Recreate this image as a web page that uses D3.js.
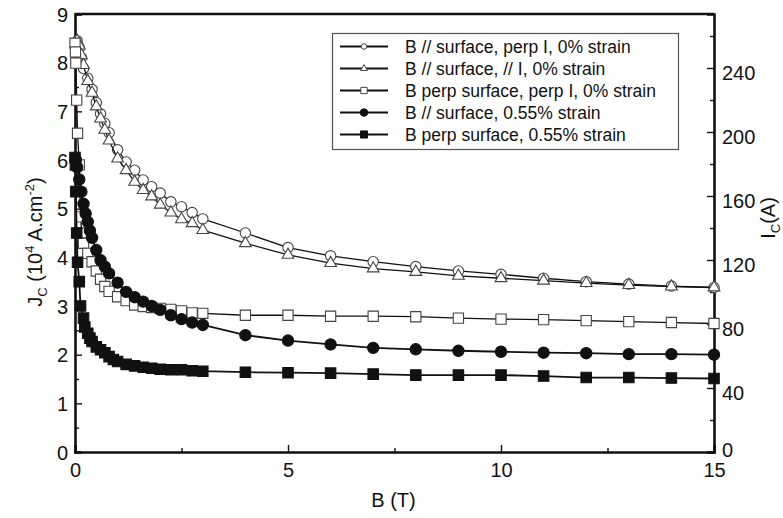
<!DOCTYPE html>
<html>
<head>
<meta charset="utf-8">
<script src="https://cdn.jsdelivr.net/npm/d3@7"></script>
<style>
  body { margin: 0; background: #fff; }
  svg { display: block; font-family: "Liberation Sans", Arial, sans-serif; }
  .axis path, .axis line { stroke: #111; }
  .axis text { fill: #111; font-size: 20px; }
</style>
</head>
<body>
<svg id="chart" width="783" height="518"></svg>
<script>
// field values (T) and Jc values (10^4 A/cm2)
const bCircle = [0.05, 0.1, 0.15, 0.2, 0.3, 0.4, 0.5, 0.6, 0.7, 0.8, 1.0, 1.2, 1.4, 1.6, 1.8, 2.0, 2.25, 2.5, 2.75, 3, 4, 5, 6, 7, 8, 9, 10, 11, 12, 13, 14, 15];
const jCircle = [8.45, 8.3, 8.1, 7.88, 7.68, 7.45, 7.18, 6.95, 6.75, 6.56, 6.21, 5.96, 5.79, 5.59, 5.45, 5.32, 5.14, 5.04, 4.92, 4.79, 4.50, 4.20, 4.03, 3.91, 3.81, 3.72, 3.65, 3.57, 3.50, 3.45, 3.41, 3.38];

const bTriangle = [0.05, 0.1, 0.15, 0.2, 0.3, 0.4, 0.5, 0.6, 0.7, 0.8, 1.0, 1.2, 1.4, 1.6, 1.8, 2.0, 2.25, 2.5, 2.75, 3, 4, 5, 6, 7, 8, 9, 10, 11, 12, 13, 14, 15];
const jTriangle = [8.45, 8.35, 8.15, 7.95, 7.62, 7.38, 7.10, 6.85, 6.62, 6.40, 6.03, 5.79, 5.55, 5.38, 5.25, 5.08, 4.92, 4.78, 4.70, 4.56, 4.29, 4.05, 3.88, 3.77, 3.70, 3.62, 3.57, 3.52, 3.47, 3.43, 3.40, 3.38];

const bOpenSq = [0, 0.01, 0.02, 0.04, 0.06, 0.1, 0.13, 0.16, 0.2, 0.3, 0.4, 0.5, 0.6, 0.7, 0.8, 1.0, 1.2, 1.4, 1.6, 1.8, 2.0, 2.25, 2.5, 2.75, 3, 4, 5, 6, 7, 8, 9, 10, 11, 12, 13, 14, 15];
const jOpenSq = [8.40, 8.22, 7.99, 7.23, 6.55, 5.90, 4.83, 4.50, 4.29, 4.08, 3.91, 3.72, 3.55, 3.40, 3.30, 3.19, 3.11, 3.02, 2.99, 2.97, 2.95, 2.93, 2.90, 2.86, 2.85, 2.81, 2.81, 2.79, 2.79, 2.78, 2.75, 2.73, 2.72, 2.70, 2.68, 2.66, 2.64];

const bDot = [0.02, 0.05, 0.1, 0.15, 0.2, 0.25, 0.3, 0.35, 0.4, 0.5, 0.6, 0.7, 0.8, 1.0, 1.2, 1.4, 1.6, 1.8, 2.0, 2.25, 2.5, 2.75, 3, 4, 5, 6, 7, 8, 9, 10, 11, 12, 13, 14, 15];
const jDot = [6.0, 5.85, 5.6, 5.35, 5.1, 4.9, 4.73, 4.55, 4.4, 4.15, 3.94, 3.81, 3.67, 3.48, 3.29, 3.18, 3.09, 3.0, 2.92, 2.81, 2.73, 2.66, 2.61, 2.40, 2.29, 2.21, 2.14, 2.11, 2.08, 2.06, 2.04, 2.03, 2.01, 2.01, 2.0];

const bFillSq = [0, 0.01, 0.02, 0.04, 0.06, 0.1, 0.13, 0.2, 0.23, 0.3, 0.35, 0.4, 0.5, 0.6, 0.7, 0.8, 0.9, 1.0, 1.2, 1.4, 1.6, 1.8, 2.0, 2.25, 2.5, 2.75, 3, 4, 5, 6, 7, 8, 9, 10, 11, 12, 13, 14, 15];
const jFillSq = [6.05, 5.9, 5.35, 4.5, 3.9, 3.5, 3.0, 2.75, 2.57, 2.44, 2.34, 2.27, 2.16, 2.10, 2.04, 1.96, 1.90, 1.86, 1.80, 1.77, 1.74, 1.72, 1.70, 1.69, 1.69, 1.67, 1.66, 1.64, 1.63, 1.62, 1.60, 1.58, 1.58, 1.58, 1.56, 1.53, 1.53, 1.52, 1.51];

const legendLabels = [
  "B // surface, perp I, 0% strain",
  "B // surface, // I, 0% strain",
  "B perp surface, perp I, 0% strain",
  "B // surface, 0.55% strain",
  "B perp surface, 0.55% strain"
];

const xTicks = [0, 5, 10, 15];
const yTicks = [0, 1, 2, 3, 4, 5, 6, 7, 8, 9];
const icTicks = [0, 40, 80, 120, 160, 200, 240];

const svg = d3.select("#chart");
const pLeft = 75, pRight = 714, pTop = 14, pBottom = 452;

const x = d3.scaleLinear().domain([0, 15]).range([pLeft, pRight]);
const y = d3.scaleLinear().domain([0, 9]).range([pBottom, pTop]);
const yIc = d3.scaleLinear().domain([0, (pBottom - pTop) / 1.6]).range([pBottom, pTop]);

// minor ticks
svg.append("g").attr("class", "axis")
  .attr("transform", `translate(${pLeft},0)`)
  .call(d3.axisLeft(y).tickValues(d3.range(0.5, 9, 1)).tickSize(-4).tickFormat(""))
  .select(".domain").remove();
svg.append("g").attr("class", "axis")
  .attr("transform", `translate(0,${pBottom})`)
  .call(d3.axisBottom(x).tickValues([2.5, 7.5, 12.5]).tickSize(-4).tickFormat(""))
  .select(".domain").remove();
svg.append("g").attr("class", "axis")
  .attr("transform", `translate(${pRight},0)`)
  .call(d3.axisRight(yIc).tickValues(d3.range(20, 270, 40)).tickSize(-4).tickFormat(""))
  .select(".domain").remove();

// major axes
const gl = svg.append("g").attr("class", "axis")
  .attr("transform", `translate(${pLeft},0)`)
  .call(d3.axisLeft(y).tickValues(yTicks).tickSize(-7).tickPadding(7).tickFormat(d3.format("d")));
gl.selectAll(".tick text").attr("dy", "0.36em");

const gb = svg.append("g").attr("class", "axis")
  .attr("transform", `translate(0,${pBottom})`)
  .call(d3.axisBottom(x).tickValues(xTicks).tickSize(-7).tickPadding(11).tickFormat(d3.format("d")));

const gr = svg.append("g").attr("class", "axis")
  .attr("transform", `translate(${pRight},0)`)
  .call(d3.axisRight(yIc).tickValues(icTicks).tickSize(-7).tickPadding(8).tickFormat(d3.format("d")));
gr.selectAll(".tick text").attr("dy", d => d === 0 ? "0.2em" : "0.55em");

svg.selectAll(".axis .domain").attr("stroke-width", 2.6);
svg.selectAll(".axis .tick line").attr("stroke-width", 1.4);

// frame top
svg.append("line")
  .attr("x1", pLeft).attr("x2", pRight).attr("y1", pTop).attr("y2", pTop)
  .attr("stroke", "#111").attr("stroke-width", 2.6);

// axis titles
const yTitle = svg.append("text")
  .attr("transform", "translate(42,242) rotate(-90)")
  .attr("text-anchor", "middle").attr("font-size", 20).attr("fill", "#111");
yTitle.append("tspan").text("J");
yTitle.append("tspan").attr("font-size", 13).attr("dy", 5).text("C");
yTitle.append("tspan").attr("dy", -5).text(" (10");
yTitle.append("tspan").attr("font-size", 13).attr("dy", -8).text("4");
yTitle.append("tspan").attr("dy", 8).text(" A.cm");
yTitle.append("tspan").attr("font-size", 13).attr("dy", -8).text("-2");
yTitle.append("tspan").attr("dy", 8).text(")");

const icTitle = svg.append("text")
  .attr("transform", "translate(775,218) rotate(-90)")
  .attr("text-anchor", "middle").attr("font-size", 20).attr("fill", "#111");
icTitle.append("tspan").text("I");
icTitle.append("tspan").attr("font-size", 13).attr("dy", 5).text("C");
icTitle.append("tspan").attr("dy", -5).text("(A)");

svg.append("text")
  .attr("x", (pLeft + pRight) / 2 - 1).attr("y", 507)
  .attr("text-anchor", "middle").attr("font-size", 20).attr("fill", "#111")
  .text("B (T)");

// series
const series = [
  { b: bCircle, j: jCircle, shape: d3.symbolCircle, size: 85, fill: "#fff", lw: 1.3 },
  { b: bTriangle, j: jTriangle, shape: d3.symbolTriangle, size: 60, fill: "#fff", lw: 1.3 },
  { b: bOpenSq, j: jOpenSq, shape: d3.symbolSquare, size: 105, fill: "#fff", lw: 1.3 },
  { b: bDot, j: jDot, shape: d3.symbolCircle, size: 100, fill: "#111", lw: 1.8 },
  { b: bFillSq, j: jFillSq, shape: d3.symbolSquare, size: 110, fill: "#111", lw: 1.8 }
];

const line = d3.line().x(d => x(d[0])).y(d => y(d[1]));

series.forEach(s => {
  const pts = s.b.map((b, i) => [b, s.j[i]]);
  const g = svg.append("g");
  g.append("path").datum(pts)
    .attr("d", line).attr("fill", "none")
    .attr("stroke", "#111").attr("stroke-width", s.lw);
  g.selectAll("path.m").data(pts).join("path")
    .attr("class", "m")
    .attr("transform", d => `translate(${x(d[0])},${y(d[1])})`)
    .attr("d", d3.symbol().type(s.shape).size(s.size))
    .attr("fill", s.fill)
    .attr("stroke", s.fill === "#fff" ? "#444" : "#111")
    .attr("stroke-width", 1.1);
});

// legend
const lg = svg.append("g");
lg.append("rect")
  .attr("x", 332.5).attr("y", 33.5).attr("width", 346).attr("height", 116)
  .attr("fill", "#fff").attr("stroke", "#555").attr("stroke-width", 1.2);
const legendSizes = [24, 20, 40, 44, 50];
legendLabels.forEach((label, i) => {
  const ly = 46.5 + i * 22;
  const s = series[i];
  lg.append("line")
    .attr("x1", 340).attr("x2", 388).attr("y1", ly).attr("y2", ly)
    .attr("stroke", "#111").attr("stroke-width", 2);
  lg.append("path")
    .attr("transform", `translate(364,${ly})`)
    .attr("d", d3.symbol().type(s.shape).size(legendSizes[i]))
    .attr("fill", s.fill)
    .attr("stroke", s.fill === "#fff" ? "#444" : "#111")
    .attr("stroke-width", 1);
  lg.append("text")
    .attr("x", 405).attr("y", ly).attr("dy", "0.36em")
    .attr("font-size", 17.5).attr("fill", "#111")
    .text(label);
});
</script>
</body>
</html>
